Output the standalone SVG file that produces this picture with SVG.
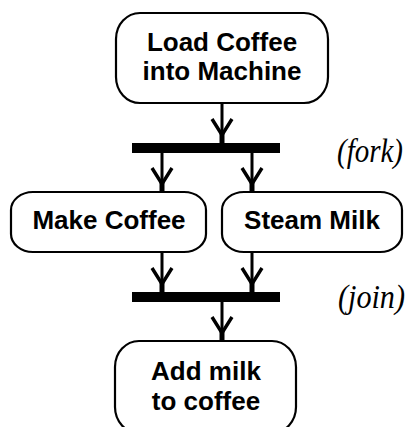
<svg xmlns="http://www.w3.org/2000/svg" width="412" height="427" viewBox="0 0 412 427">
<style>
.node rect{fill:#fff;stroke:#000;stroke-width:2.2}
.node text{font-family:"Liberation Sans",Arial,sans-serif;font-weight:bold;font-size:26px;fill:#000;text-anchor:middle}
.bar{fill:#000}
.edge{stroke:#000;stroke-width:3;fill:none}
.note{font-family:"Liberation Serif","Times New Roman",serif;font-style:italic;font-size:33px;fill:#000}
</style>
<defs>
<marker id="arr" markerUnits="userSpaceOnUse" markerWidth="30" markerHeight="30" refX="0" refY="0" orient="auto" overflow="visible">
<path d="M-24,-10 L-8,0 L-24,10" fill="none" stroke="#000" stroke-width="3.4" stroke-linejoin="miter"/>
<rect x="-10" y="-2.5" width="10" height="5" fill="#000"/>
</marker>
</defs>
<rect width="412" height="427" fill="#fff"/>
<g id="load">
<g class="node"><rect x="116" y="13" width="212" height="90" rx="24" ry="26"/>
<text x="222" y="51">Load Coffee</text>
<text x="222" y="80">into Machine</text></g>
</g>
<g id="fork"><rect class="bar" x="132" y="143" width="148" height="10"/></g>
<g id="make">
<g class="node"><rect x="11" y="192" width="195" height="60" rx="22" ry="18"/>
<text x="109" y="229">Make Coffee</text></g>
</g>
<g id="steam">
<g class="node"><rect x="222" y="192" width="180" height="60" rx="22" ry="18"/>
<text x="312" y="229">Steam Milk</text></g>
</g>
<g id="join"><rect class="bar" x="132" y="292" width="148" height="10"/></g>
<g id="add">
<g class="node"><rect x="115" y="341" width="181" height="92" rx="24" ry="26"/>
<text x="206" y="380">Add milk</text>
<text x="206" y="410">to coffee</text></g>
</g>
<g id="connectors">
<line class="edge" x1="222" y1="103" x2="222" y2="143" marker-end="url(#arr)"/>
<line class="edge" x1="162" y1="153" x2="162" y2="192" marker-end="url(#arr)"/>
<line class="edge" x1="252" y1="153" x2="252" y2="192" marker-end="url(#arr)"/>
<line class="edge" x1="162" y1="252" x2="162" y2="292" marker-end="url(#arr)"/>
<line class="edge" x1="252" y1="252" x2="252" y2="292" marker-end="url(#arr)"/>
<line class="edge" x1="222" y1="302" x2="222" y2="341" marker-end="url(#arr)"/>
</g>
<text class="note" x="337" y="162" textLength="66" lengthAdjust="spacingAndGlyphs">(fork)</text>
<text class="note" x="338" y="308" textLength="67" lengthAdjust="spacingAndGlyphs">(join)</text>
</svg>
